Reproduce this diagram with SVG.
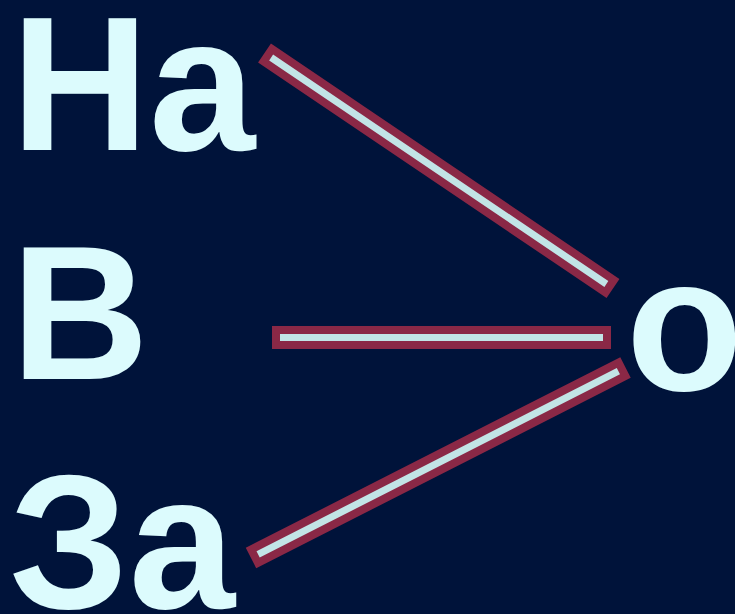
<svg xmlns="http://www.w3.org/2000/svg" width="735" height="614" viewBox="0 0 735 614">
<style>
.w{font-family:"Liberation Sans",Arial,sans-serif;font-weight:bold;font-size:191px;fill:#dcfbfd}
.bar{fill:#c2e4e6;stroke:#8a2846;stroke-width:8}
</style>
<rect width="735" height="614" fill="#00133a"/>
<g id="connectors">
<rect class="bar" x="-206.3" y="-7.5" width="412.6" height="15" transform="translate(438.75,170.75) rotate(34.05)"/>
<rect class="bar" x="276" y="330" width="331" height="15"/>
<rect class="bar" x="-206.1" y="-7.5" width="412.2" height="15" transform="translate(438.25,462.75) rotate(-26.96)"/>
</g>
<g id="node-na"><text class="w" x="11" y="150">На</text></g>
<g id="node-v"><text class="w" x="11" y="379">В</text></g>
<g id="node-za"><text class="w" x="9" y="608">За</text></g>
<g id="node-o"><text class="w" x="626" y="390">о</text></g>
</svg>
